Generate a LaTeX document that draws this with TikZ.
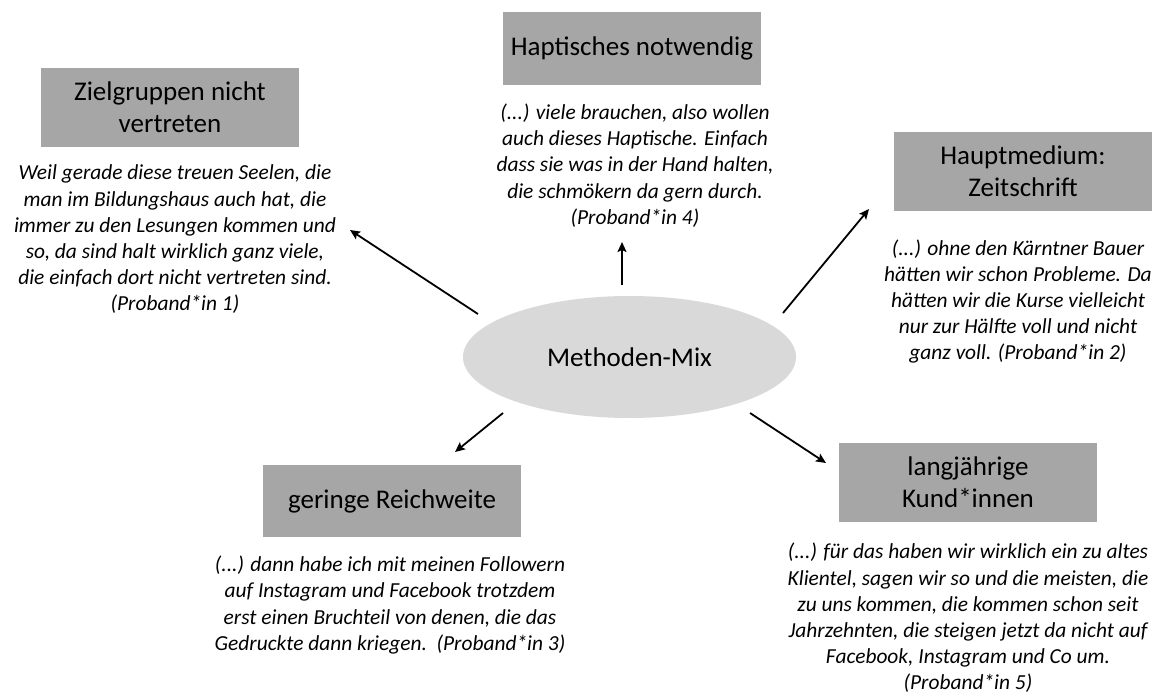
\documentclass[tikz,border=0pt]{standalone}
\usepackage{fontspec}
\setmainfont{Carlito}
\usetikzlibrary{arrows.meta,shapes.geometric}
\definecolor{boxgray}{HTML}{A6A6A6}
\definecolor{ellgray}{HTML}{D9D9D9}
\tikzset{
  topic/.style={fill=boxgray, minimum width=258pt, inner sep=0pt, align=center,
    font=\fontsize{27}{32}\selectfont},
  quote/.style={align=center, inner sep=0pt, font=\fontsize{21.4}{26.2}\selectfont\itshape},
  link/.style={line width=1.8pt, -{Stealth[length=10pt,width=9pt,inset=2pt]}},
}
\begin{document}
\begin{tikzpicture}[x=1pt,y=-1pt]
  \useasboundingbox[fill=white] (0,0) rectangle (1162,693);

  % central ellipse
  \node[ellipse, fill=ellgray, minimum width=333pt, minimum height=122pt, inner sep=0pt,
        font=\fontsize{27}{32}\selectfont] (mix) at (629.5,357) {Methoden-Mix};

  % topic boxes
  \node[topic, minimum height=79pt] (ziel) at (170,107.5) {Zielgruppen nicht\\vertreten};
  \node[topic, minimum height=73pt] (hapt) at (632,48.5) {Haptisches notwendig};
  \node[topic, minimum height=79pt] (haupt) at (1023,171.5) {Hauptmedium:\\Zeitschrift};
  \node[topic, minimum height=72pt] (reich) at (392,501) {geringe Reichweite};
  \node[topic, minimum height=79pt] (kund) at (968,482.5) {langjährige\\Kund*innen};

  % quotations
  \node[quote] (q1) at (175,239.5) {Weil gerade diese treuen Seelen, die\\man im Bildungshaus auch hat, die\\immer zu den Lesungen kommen und\\so, da sind halt wirklich ganz viele,\\die einfach dort nicht vertreten sind.\\(Proband*in 1)};
  \node[quote] (q4) at (635,165.5) {(...) viele brauchen, also wollen\\auch dieses Haptische. Einfach\\dass sie was in der Hand halten,\\die schmökern da gern durch.\\(Proband*in 4)};
  \node[quote] (q2) at (1018,301.5) {(...) ohne den Kärntner Bauer\\hätten wir schon Probleme. Da\\hätten wir die Kurse vielleicht\\nur zur Hälfte voll und nicht\\ganz voll. (Proband*in 2)};
  \node[quote] (q3) at (390,605) {(...) dann habe ich mit meinen Followern\\auf Instagram und Facebook trotzdem\\erst einen Bruchteil von denen, die das\\Gedruckte dann kriegen.\ \ (Proband*in 3)};
  \node[quote] (q5) at (968,618) {(...) für das haben wir wirklich ein zu altes\\Klientel, sagen wir so und die meisten, die\\zu uns kommen, die kommen schon seit\\Jahrzehnten, die steigen jetzt da nicht auf\\Facebook, Instagram und Co um.\\(Proband*in 5)};

  % arrow end points
  \coordinate (s1) at (478,314);
  \coordinate (e1) at (350,230);
  \coordinate (s2) at (622,285);
  \coordinate (e2) at (622,242);
  \coordinate (s3) at (783,313);
  \coordinate (e3) at (869,209);
  \coordinate (s4) at (503,413);
  \coordinate (e4) at (455,452);
  \coordinate (s5) at (750,413);
  \coordinate (e5) at (826,463);

  \draw[link] (s1) -- (e1);
  \draw[link] (s2) -- (e2);
  \draw[link] (s3) -- (e3);
  \draw[link] (s4) -- (e4);
  \draw[link] (s5) -- (e5);
\end{tikzpicture}
\end{document}
